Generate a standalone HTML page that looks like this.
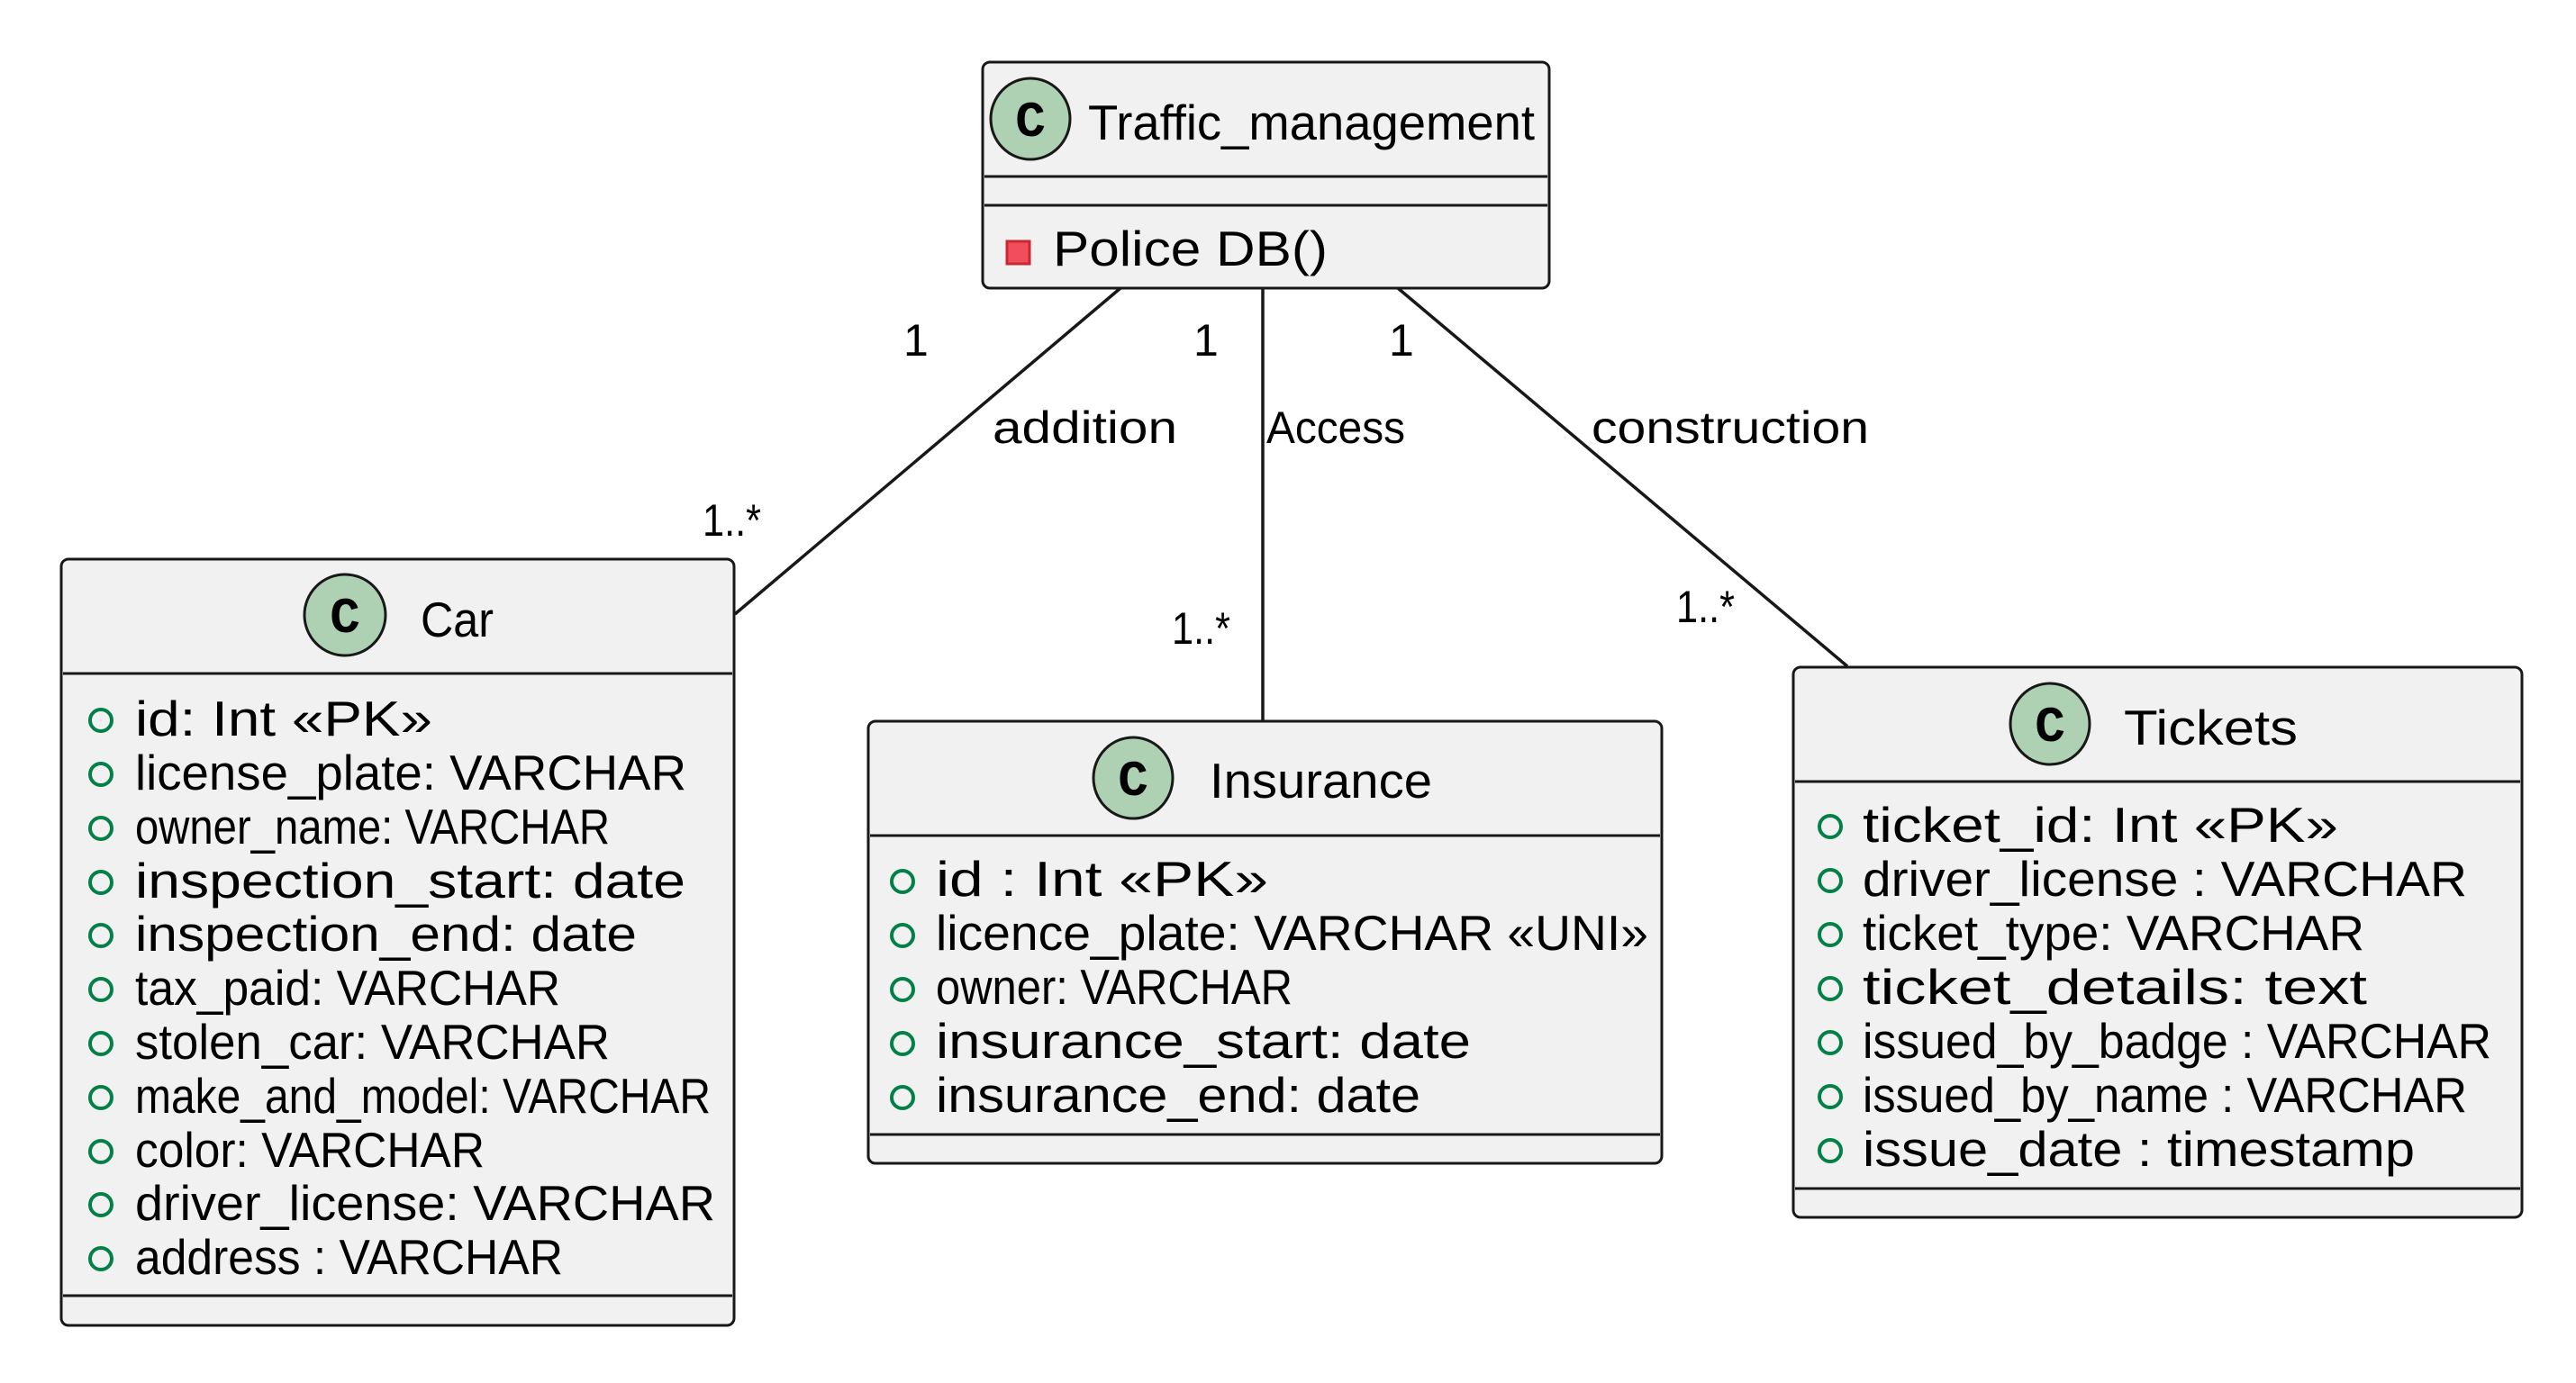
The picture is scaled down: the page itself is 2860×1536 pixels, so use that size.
<!DOCTYPE html>
<html><head><meta charset="utf-8"><style>
html,body{margin:0;padding:0;background:#fff;}
svg{display:block;}
text{font-family:"Liberation Sans",sans-serif;fill:#000;}
.t{font-size:55px;}
.l{font-size:50px;}
.c{font-family:"Liberation Mono",monospace;font-weight:bold;font-size:56px;}
</style></head><body>
<svg width="2860" height="1536" viewBox="0 0 2860 1536" xmlns="http://www.w3.org/2000/svg">
<rect width="2860" height="1536" fill="#fff"/>
<!-- connectors -->
<g stroke="#181818" stroke-width="3.5" fill="none">
<line x1="1244" y1="320" x2="816" y2="682"/>
<line x1="1402" y1="320" x2="1402" y2="800"/>
<line x1="1552" y1="320" x2="2051" y2="740"/>
</g>
<text class="l" x="1003" y="395">1</text>
<text class="l" x="1325" y="395">1</text>
<text class="l" x="1542" y="395">1</text>
<text class="l" x="1102" y="492" textLength="205" lengthAdjust="spacingAndGlyphs">addition</text>
<text class="l" x="1406" y="492" textLength="154" lengthAdjust="spacingAndGlyphs">Access</text>
<text class="l" x="1767" y="492" textLength="308" lengthAdjust="spacingAndGlyphs">construction</text>
<text class="l" x="780" y="595" textLength="65" lengthAdjust="spacingAndGlyphs">1..*</text>
<text class="l" x="1301" y="715" textLength="65" lengthAdjust="spacingAndGlyphs">1..*</text>
<text class="l" x="1861" y="691" textLength="65" lengthAdjust="spacingAndGlyphs">1..*</text>

<!-- Traffic_management -->
<rect x="1091" y="69" width="629" height="251" rx="8" fill="#F1F1F1" stroke="#181818" stroke-width="3"/>
<line x1="1093" y1="196" x2="1718" y2="196" stroke="#181818" stroke-width="3"/>
<line x1="1093" y1="228" x2="1718" y2="228" stroke="#181818" stroke-width="3"/>
<ellipse cx="1144" cy="132" rx="44" ry="45" fill="#ADD1B2" stroke="#181818" stroke-width="3"/>
<text class="c" x="1144" y="151" text-anchor="middle">C</text>
<text class="t" x="1208" y="155" textLength="496" lengthAdjust="spacingAndGlyphs">Traffic_management</text>
<rect x="1118" y="268" width="25" height="25" fill="#F24D5C" stroke="#C82930" stroke-width="3"/>
<text class="t" x="1169" y="295" textLength="305" lengthAdjust="spacingAndGlyphs">Police DB()</text>

<!-- Car -->
<rect x="68" y="621" width="747" height="851" rx="8" fill="#F1F1F1" stroke="#181818" stroke-width="3"/>
<line x1="70" y1="748" x2="813" y2="748" stroke="#181818" stroke-width="3"/>
<line x1="70" y1="1439" x2="813" y2="1439" stroke="#181818" stroke-width="3"/>
<circle cx="383" cy="683" r="45" fill="#ADD1B2" stroke="#181818" stroke-width="3"/>
<text class="c" x="383" y="702" text-anchor="middle">C</text>
<text class="t" x="467" y="707" textLength="81" lengthAdjust="spacingAndGlyphs">Car</text>
<g fill="none" stroke="#038048" stroke-width="4">
<circle cx="112" cy="800" r="12"/><circle cx="112" cy="860" r="12"/><circle cx="112" cy="920" r="12"/><circle cx="112" cy="980" r="12"/><circle cx="112" cy="1039" r="12"/><circle cx="112" cy="1099" r="12"/><circle cx="112" cy="1159" r="12"/><circle cx="112" cy="1219" r="12"/><circle cx="112" cy="1279" r="12"/><circle cx="112" cy="1338" r="12"/><circle cx="112" cy="1398" r="12"/>
</g>
<text class="t" x="150" y="817" textLength="330" lengthAdjust="spacingAndGlyphs">id: Int «PK»</text>
<text class="t" x="150" y="877" textLength="612" lengthAdjust="spacingAndGlyphs">license_plate: VARCHAR</text>
<text class="t" x="150" y="937" textLength="527" lengthAdjust="spacingAndGlyphs">owner_name: VARCHAR</text>
<text class="t" x="150" y="997" textLength="611" lengthAdjust="spacingAndGlyphs">inspection_start: date</text>
<text class="t" x="150" y="1056" textLength="557" lengthAdjust="spacingAndGlyphs">inspection_end: date</text>
<text class="t" x="150" y="1116" textLength="472" lengthAdjust="spacingAndGlyphs">tax_paid: VARCHAR</text>
<text class="t" x="150" y="1176" textLength="527" lengthAdjust="spacingAndGlyphs">stolen_car: VARCHAR</text>
<text class="t" x="150" y="1236" textLength="639" lengthAdjust="spacingAndGlyphs">make_and_model: VARCHAR</text>
<text class="t" x="150" y="1296" textLength="388" lengthAdjust="spacingAndGlyphs">color: VARCHAR</text>
<text class="t" x="150" y="1355" textLength="644" lengthAdjust="spacingAndGlyphs">driver_license: VARCHAR</text>
<text class="t" x="150" y="1415" textLength="475" lengthAdjust="spacingAndGlyphs">address : VARCHAR</text>

<!-- Insurance -->
<rect x="964" y="801" width="881" height="491" rx="8" fill="#F1F1F1" stroke="#181818" stroke-width="3"/>
<line x1="966" y1="928" x2="1843" y2="928" stroke="#181818" stroke-width="3"/>
<line x1="966" y1="1260" x2="1843" y2="1260" stroke="#181818" stroke-width="3"/>
<ellipse cx="1258" cy="864" rx="44" ry="45" fill="#ADD1B2" stroke="#181818" stroke-width="3"/>
<text class="c" x="1258" y="883" text-anchor="middle">C</text>
<text class="t" x="1343" y="886" textLength="247" lengthAdjust="spacingAndGlyphs">Insurance</text>
<g fill="none" stroke="#038048" stroke-width="4">
<circle cx="1002" cy="979" r="12"/><circle cx="1002" cy="1039" r="12"/><circle cx="1002" cy="1099" r="12"/><circle cx="1002" cy="1159" r="12"/><circle cx="1002" cy="1219" r="12"/>
</g>
<text class="t" x="1039" y="995" textLength="369" lengthAdjust="spacingAndGlyphs">id : Int «PK»</text>
<text class="t" x="1039" y="1055" textLength="791" lengthAdjust="spacingAndGlyphs">licence_plate: VARCHAR «UNI»</text>
<text class="t" x="1039" y="1115" textLength="396" lengthAdjust="spacingAndGlyphs">owner: VARCHAR</text>
<text class="t" x="1039" y="1175" textLength="594" lengthAdjust="spacingAndGlyphs">insurance_start: date</text>
<text class="t" x="1039" y="1235" textLength="538" lengthAdjust="spacingAndGlyphs">insurance_end: date</text>

<!-- Tickets -->
<rect x="1991" y="741" width="809" height="611" rx="8" fill="#F1F1F1" stroke="#181818" stroke-width="3"/>
<line x1="1993" y1="868" x2="2798" y2="868" stroke="#181818" stroke-width="3"/>
<line x1="1993" y1="1320" x2="2798" y2="1320" stroke="#181818" stroke-width="3"/>
<ellipse cx="2276" cy="804" rx="44" ry="45" fill="#ADD1B2" stroke="#181818" stroke-width="3"/>
<text class="c" x="2276" y="823" text-anchor="middle">C</text>
<text class="t" x="2358" y="827" textLength="193" lengthAdjust="spacingAndGlyphs">Tickets</text>
<g fill="none" stroke="#038048" stroke-width="4">
<circle cx="2032" cy="918" r="12"/><circle cx="2032" cy="978" r="12"/><circle cx="2032" cy="1038" r="12"/><circle cx="2032" cy="1098" r="12"/><circle cx="2032" cy="1158" r="12"/><circle cx="2032" cy="1218" r="12"/><circle cx="2032" cy="1278" r="12"/>
</g>
<text class="t" x="2068" y="935" textLength="528" lengthAdjust="spacingAndGlyphs">ticket_id: Int «PK»</text>
<text class="t" x="2068" y="995" textLength="671" lengthAdjust="spacingAndGlyphs">driver_license : VARCHAR</text>
<text class="t" x="2068" y="1055" textLength="557" lengthAdjust="spacingAndGlyphs">ticket_type: VARCHAR</text>
<text class="t" x="2068" y="1115" textLength="560" lengthAdjust="spacingAndGlyphs">ticket_details: text</text>
<text class="t" x="2068" y="1175" textLength="698" lengthAdjust="spacingAndGlyphs">issued_by_badge : VARCHAR</text>
<text class="t" x="2068" y="1235" textLength="671" lengthAdjust="spacingAndGlyphs">issued_by_name : VARCHAR</text>
<text class="t" x="2068" y="1295" textLength="613" lengthAdjust="spacingAndGlyphs">issue_date : timestamp</text>
</svg>
</body></html>
